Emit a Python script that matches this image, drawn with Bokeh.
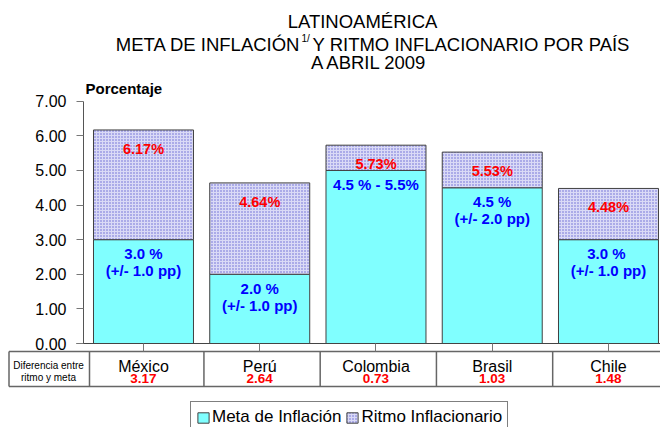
from bokeh.plotting import figure
from bokeh.models import (LinearAxis, FixedTicker, PrintfTickFormatter, Range1d,
                          Label, Legend, LegendItem, ColumnDataSource)
from bokeh.core.properties import value
from bokeh.embed import file_html
from bokeh.resources import INLINE

# ---------------- data ----------------
countries = ["México", "Perú", "Colombia", "Brasil", "Chile"]
meta = [3.0, 2.0, 5.0, 4.5, 3.0]            # meta de inflación (bar height)
ritmo = [6.17, 4.64, 5.73, 5.53, 4.48]      # ritmo inflacionario
ritmo_labels = ["6.17%", "4.64%", "5.73%", "5.53%", "4.48%"]
meta_line1 = ["3.0 %", "2.0 %", "4.5 % - 5.5%", "4.5 %", "3.0  %"]
meta_line2 = ["(+/- 1.0 pp)", "(+/- 1.0 pp)", "", "(+/- 2.0 pp)", "(+/- 1.0 pp)"]
diferencia = ["3.17", "2.64", "0.73", "1.03", "1.48"]
y_ticks = [0, 1, 2, 3, 4, 5, 6, 7]

# ---------------- layout helpers (page pixel -> data) ----------------
W, H = 660, 427
PX_X = 116.25      # pixels per category
PX_Y = 34.61       # pixels per percentage point
AXIS_PX = 83       # page x of the y axis
ZERO_PX = 343      # page y of 0.00
X0 = -0.016        # data x at the y axis


def dx(px):
    return X0 + (px - AXIS_PX) / PX_X


def dy(py):
    return (ZERO_PX - py) / PX_Y


FONT = "Liberation Sans"

p = figure(width=W, height=H, output_backend="svg", toolbar_location=None,
           x_range=Range1d(dx(0), dx(W)), y_range=Range1d(dy(H), dy(0)),
           x_axis_location=None, y_axis_location=None,
           min_border=0, min_border_left=0, min_border_right=0,
           min_border_top=0, min_border_bottom=0)
p.outline_line_color = None
p.grid.grid_line_color = None
p.background_fill_color = "white"

xs = [i + 0.5 for i in range(len(countries))]
src = ColumnDataSource(dict(x=xs, country=countries, meta=meta, ritmo=ritmo,
                            rl=ritmo_labels, m1=meta_line1, m2=meta_line2,
                            dif=diferencia,
                            ry=[r - 19 / PX_Y for r in ritmo],
                            m1y=[m - 14 / PX_Y for m in meta],
                            m2y=[m - 31 / PX_Y for m in meta],
                            cy=[dy(366)] * len(countries),
                            dify=[dy(378)] * len(countries)))

# ---------------- axes ----------------
yaxis = LinearAxis(fixed_location=dx(AXIS_PX), bounds=(0, 7),
                   ticker=FixedTicker(ticks=y_ticks),
                   formatter=PrintfTickFormatter(format="%.2f"))
yaxis.major_tick_out = 7
yaxis.major_tick_in = 0
yaxis.minor_tick_out = 0
yaxis.minor_tick_in = 0
yaxis.axis_line_color = "#555555"
yaxis.major_tick_line_color = "#777777"
yaxis.major_label_text_font = FONT
yaxis.major_label_text_font_size = "16px"
yaxis.major_label_text_color = "#000000"
yaxis.major_label_standoff = 10
p.add_layout(yaxis, "left")

xaxis = LinearAxis(fixed_location=0, bounds=(dx(76), dx(W)),
                   ticker=FixedTicker(ticks=xs))
xaxis.major_tick_out = 8
xaxis.major_tick_in = 0
xaxis.minor_tick_out = 0
xaxis.minor_tick_in = 0
xaxis.axis_line_color = "#444444"
xaxis.major_tick_line_color = "#777777"
xaxis.major_label_text_font_size = "0px"
xaxis.major_label_text_color = None
p.add_layout(xaxis, "below")

# ---------------- bars ----------------
r_meta = p.vbar(x="x", width=0.86, bottom=0, top="meta", source=src,
                fill_color="#80FFFF", line_color="#404040", line_width=1)
r_ritmo = p.vbar(x="x", width=0.86, bottom="meta", top="ritmo", source=src,
                 fill_color="#DADAF6", hatch_pattern="dot", hatch_color="#6464D2",
                 hatch_scale=3, hatch_weight=1.4,
                 line_color="#404040", line_width=1)

# bar labels
p.text(x="x", y="ry", text="rl", source=src, text_align="center",
       text_baseline="alphabetic", text_color="#FF0000",
       text_font=value(FONT), text_font_style="bold", text_font_size="14.5px")
p.text(x="x", y="m1y", text="m1", source=src, text_align="center",
       text_baseline="alphabetic", text_color="#0000FF",
       text_font=value(FONT), text_font_style="bold", text_font_size="15px")
p.text(x="x", y="m2y", text="m2", source=src, text_align="center",
       text_baseline="alphabetic", text_color="#0000FF",
       text_font=value(FONT), text_font_style="bold", text_font_size="15px")

# ---------------- table ----------------
tab_top, tab_bot = dy(351), dy(386)
bounds = [dx(89)] + [i + 0.02 for i in range(1, len(countries))]
p.segment(x0=[dx(8.5), dx(8.5)], y0=[tab_top, tab_bot],
          x1=[dx(W), dx(W)], y1=[tab_top, tab_bot],
          line_color="#666666", line_width=1.5)
p.segment(x0=[dx(8.5)] + bounds, y0=[tab_top] * (len(bounds) + 1),
          x1=[dx(8.5)] + bounds, y1=[tab_bot] * (len(bounds) + 1),
          line_color="#666666", line_width=1.5)

p.text(x="x", y="cy", text="country", source=src, text_align="center",
       text_baseline="alphabetic", text_color="#000000",
       text_font=value(FONT), text_font_size="16px")
p.text(x="x", y="dify", text="dif", source=src, text_align="center",
       text_baseline="alphabetic", text_color="#FF0000",
       text_font=value(FONT), text_font_style="bold", text_font_size="13.5px")

for txt, by in (("Diferencia entre", 365), ("ritmo y meta", 377)):
    p.add_layout(Label(x=dx(48), y=dy(by), text=txt, text_align="center",
                       text_baseline="alphabetic", text_font=FONT,
                       text_font_size="10px", text_color="#000000"))

# ---------------- titles ----------------
TS = "18.5px"
p.add_layout(Label(x=dx(362), y=dy(21), text="LATINOAMÉRICA", text_align="center",
                   text_baseline="alphabetic", text_font=FONT,
                   text_font_size=TS, text_color="#000000"))
p.add_layout(Label(x=dx(300), y=dy(44), text="META DE INFLACIÓN", text_align="right",
                   text_baseline="alphabetic", text_font=FONT,
                   text_font_size=TS, text_color="#000000"))
p.add_layout(Label(x=dx(301), y=dy(38), text="1/", text_align="left",
                   text_baseline="alphabetic", text_font=FONT,
                   text_font_size="10px", text_color="#000000"))
p.add_layout(Label(x=dx(312), y=dy(44), text="Y RITMO INFLACIONARIO POR PAÍS",
                   text_align="left", text_baseline="alphabetic", text_font=FONT,
                   text_font_size=TS, text_color="#000000"))
p.add_layout(Label(x=dx(369), y=dy(62), text="A ABRIL 2009", text_align="center",
                   text_baseline="alphabetic", text_font=FONT,
                   text_font_size=TS, text_color="#000000"))
p.add_layout(Label(x=dx(85), y=dy(88), text="Porcentaje", text_align="left",
                   text_baseline="alphabetic", text_font=FONT, text_font_style="bold",
                   text_font_size="15px", text_color="#000000"))

# ---------------- legend ----------------
legend = Legend(items=[LegendItem(label="Meta de Inflación", renderers=[r_meta]),
                       LegendItem(label="Ritmo Inflacionario", renderers=[r_ritmo])],
                orientation="horizontal", location=(190, -6))
legend.label_text_font = FONT
legend.label_text_font_size = "17px"
legend.label_text_color = "#000000"
legend.glyph_width = 14
legend.glyph_height = 13
legend.label_standoff = 2
legend.spacing = 4
legend.padding = 5
legend.margin = 0
legend.label_height = 16
legend.border_line_color = "#000000"
legend.border_line_width = 1
legend.background_fill_color = "white"
legend.background_fill_alpha = 1
p.add_layout(legend)

open("out.html", "w").write(file_html(p, INLINE))
